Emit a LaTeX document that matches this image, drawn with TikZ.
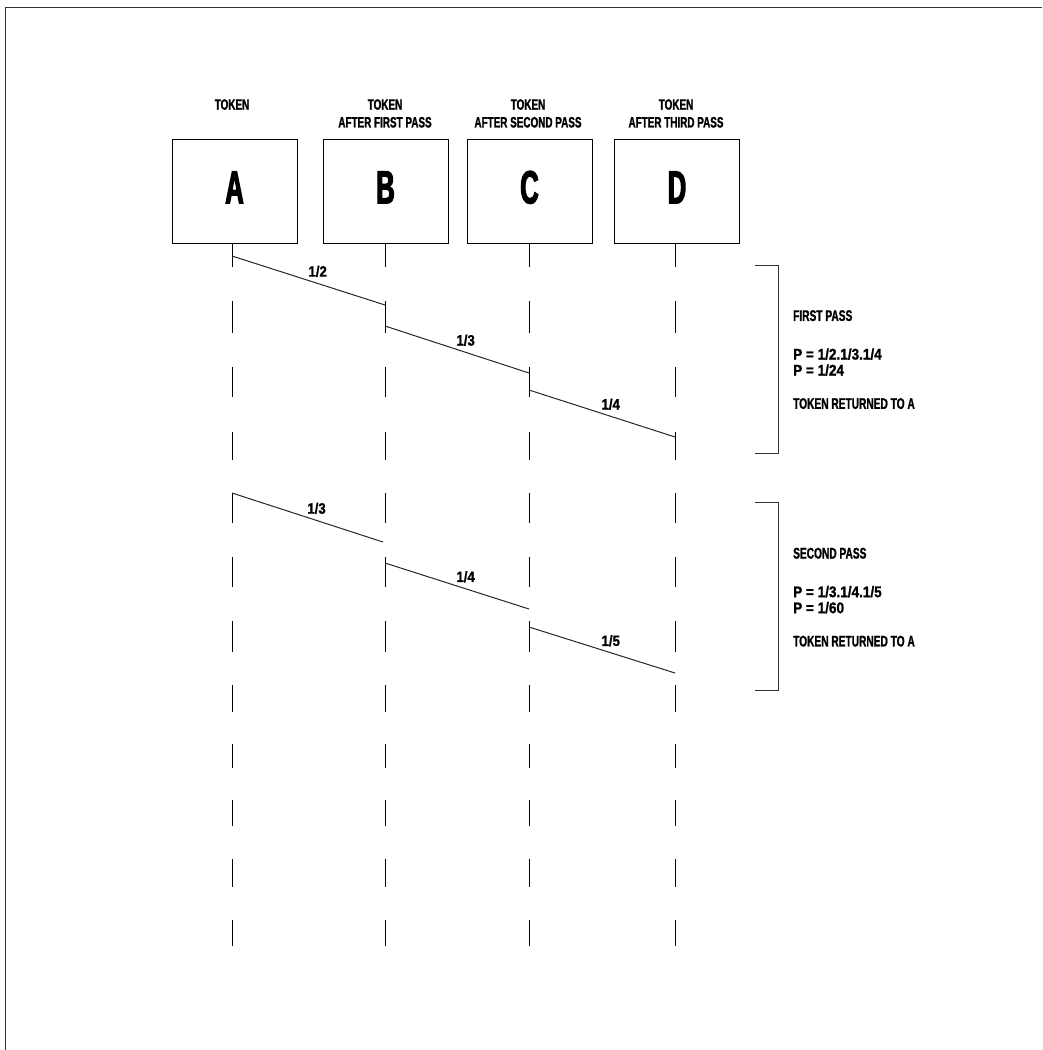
\documentclass[tikz,border=0pt]{standalone}
\usepackage{fontspec}
\newfontfamily\capsf{Liberation Sans}[FakeStretch=0.66,FakeBold=1.2]
\newfontfamily\numf{Liberation Sans}[FakeStretch=0.88,FakeBold=1.2]
\newfontfamily\letf{Liberation Sans}[FakeStretch=0.55,FakeBold=2.5]
\begin{document}
\begin{tikzpicture}[x=1pt,y=-1pt,
  tokbox/.style={draw=black,line width=1pt,minimum width=125pt,minimum height=104pt,inner sep=0pt,
    text height=33.3pt,text depth=8.6pt,font=\letf\bfseries\fontsize{46.5}{50}\selectfont},
  hdr/.style={anchor=north,align=center,inner sep=0pt,font=\capsf\bfseries\fontsize{15}{17.8}\selectfont},
  life/.style={draw=black,line width=1pt},
  msg/.style={draw=black!85,line width=1pt},
  lbl/.style={pos=0.56,anchor=south,yshift=6pt,inner sep=0pt,font=\numf\bfseries\fontsize{15}{17}\selectfont},
  brk/.style={draw=black!80,line width=1pt},
  note/.style={anchor=north west,align=left,inner sep=0pt,font=\capsf\bfseries\fontsize{15.4}{16}\selectfont},
  frame/.style={draw=black!80,line width=1pt}]
\useasboundingbox (0,0) rectangle (1042,1050);
% frame (top and left edges)
\draw[frame] (5,1050) -- (5,7) -- (1042,7);
% headers
\node[hdr] (hA) at (232,99) {TOKEN};
\node[hdr] (hB) at (385,99) {TOKEN\\AFTER FIRST PASS};
\node[hdr] (hC) at (528,99) {TOKEN\\AFTER SECOND PASS};
\node[hdr] (hD) at (676,99) {TOKEN\\AFTER THIRD PASS};
% boxes
\node[tokbox] (A) at (234.5,191) {A};
\node[tokbox] (B) at (385.5,191) {B};
\node[tokbox] (C) at (529.5,191) {C};
\node[tokbox] (D) at (677,191) {D};
% lifeline anchors
\coordinate (lA) at (232,243);
\coordinate (lB) at (385,243);
\coordinate (lC) at (529,243);
\coordinate (lD) at (675,243);
\foreach \n in {lA,lB,lC,lD}{
  \foreach \a/\b in {243/267,301/333,367/397,432/460,493/523,557/587,621/652,685/712,744/768,800/826,859/887,920/946}{
    \draw[life] (\n |- 0,\a) -- (\n |- 0,\b);
  }
}
% first pass
\coordinate (p1a) at (232,256);
\coordinate (p1b) at (385,305);
\coordinate (p1c) at (385,326);
\coordinate (p1d) at (529,373);
\coordinate (p1e) at (529,390);
\coordinate (p1f) at (675,437);
\draw[msg] (p1a) -- node[lbl] {1/2} (p1b);
\draw[msg] (p1c) -- node[lbl] {1/3} (p1d);
\draw[msg] (p1e) -- node[lbl] {1/4} (p1f);
% second pass
\coordinate (p2a) at (232,493);
\coordinate (p2b) at (383,542);
\coordinate (p2c) at (385,563);
\coordinate (p2d) at (529,609);
\coordinate (p2e) at (529,627);
\coordinate (p2f) at (675,673);
\draw[msg] (p2a) -- node[lbl] {1/3} (p2b);
\draw[msg] (p2c) -- node[lbl] {1/4} (p2d);
\draw[msg] (p2e) -- node[lbl] {1/5} (p2f);
% brackets
\draw[brk] (755,265.7) -- (778,265.7) -- (778,453) -- (755,453);
\draw[brk] (755,502) -- (778,502) -- (778,690) -- (755,690);
% notes
\node[note] (n1) at (793,310) {FIRST PASS\\[22.6pt]{\numf P = 1/2.1/3.1/4}\\{\numf P = 1/24}\\[17.3pt]TOKEN RETURNED TO A};
\node[note] (n2) at (793,547.6) {SECOND PASS\\[22.6pt]{\numf P = 1/3.1/4.1/5}\\{\numf P = 1/60}\\[17.3pt]TOKEN RETURNED TO A};
\end{tikzpicture}
\end{document}
